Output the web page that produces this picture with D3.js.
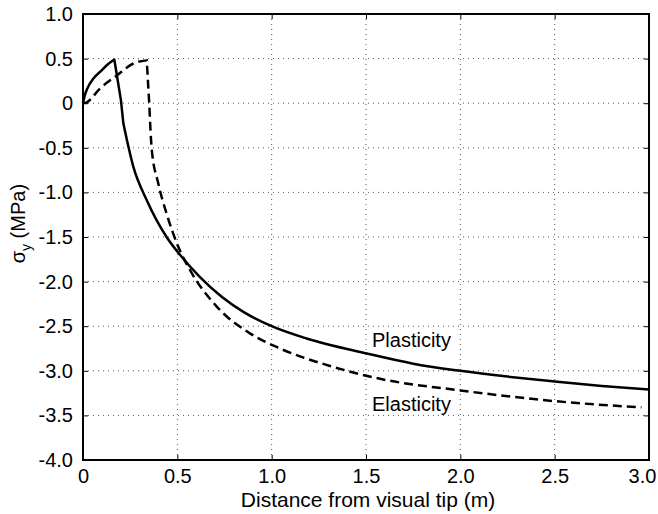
<!DOCTYPE html>
<html>
<head>
<meta charset="utf-8">
<script src="https://cdn.jsdelivr.net/npm/d3@7"></script>
<style>
  body { margin: 0; background: #fff; }
  svg text { font-family: "Liberation Sans", Arial, sans-serif; fill: #000; }
</style>
</head>
<body>
<div id="graph_container"></div>
<script>
// Plasticity curve (solid)
var plastX = [0, 0.01, 0.023, 0.055, 0.09, 0.126, 0.166, 0.201, 0.214, 0.267, 0.338, 0.443, 0.514, 0.62, 0.735, 0.85, 1.0, 1.185, 1.504, 1.75, 2.0, 2.25, 2.5, 2.75, 3.0];
var plastY = [0, 0.09, 0.165, 0.277, 0.35, 0.426, 0.49, 0.034, -0.228, -0.714, -1.088, -1.5, -1.70, -1.95, -2.17, -2.34, -2.50, -2.638, -2.806, -2.92, -3.0, -3.065, -3.12, -3.17, -3.21];
var plastBreaks = [6, 8]; // sharp corners: peak, knee

// Elasticity curve (dashed)
var elastX = [0, 0.02, 0.09, 0.179, 0.267, 0.338, 0.352, 0.364, 0.399, 0.443, 0.505, 0.567, 0.709, 0.885, 1.044, 1.3, 1.575, 2.0, 2.5, 2.96];
var elastY = [0, 0.01, 0.165, 0.31, 0.445, 0.48, -0.04, -0.51, -0.90, -1.237, -1.61, -1.87, -2.28, -2.58, -2.75, -2.94, -3.09, -3.22, -3.34, -3.41];
var elastBreaks = [5, 6];

var xTicks = [0, 0.5, 1.0, 1.5, 2.0, 2.5, 3.0];
var yTicks = [1.0, 0.5, 0, -0.5, -1.0, -1.5, -2.0, -2.5, -3.0, -3.5, -4.0];

var labels = [
    {text: "Plasticity", x: 1.741, y: -2.735},
    {text: "Elasticity", x: 1.741, y: -3.45}
];

createGraph();

function createGraph() {
    var frame_width  = 658,
        frame_height = 514,
        margin       = {top: 14, right: 9, bottom: 54, left: 83},
        width        = frame_width - margin.left - margin.right,
        height       = frame_height - margin.top - margin.bottom,
        fontSize     = "20px";

    var svg = d3.select("#graph_container").append("svg")
        .attr("width", frame_width)
        .attr("height", frame_height);

    var g = svg.append("g")
        .attr("transform", "translate(" + margin.left + "," + margin.top + ")");

    var x = d3.scaleLinear().domain([0, 3]).range([0, width]);
    var y = d3.scaleLinear().domain([-4, 1]).range([height, 0]);

    var fmt = function(d) { return d === 0 ? "0" : d.toFixed(1); };

    // dotted grid
    g.append("g").selectAll("line")
        .data(xTicks.slice(1, -1))
        .enter().append("line")
        .attr("x1", function(d) { return x(d); })
        .attr("x2", function(d) { return x(d); })
        .attr("y1", 0).attr("y2", height)
        .attr("stroke", "#555").attr("stroke-width", 1)
        .attr("stroke-dasharray", "1,4");
    g.append("g").selectAll("line")
        .data(yTicks.slice(1, -1))
        .enter().append("line")
        .attr("y1", function(d) { return y(d); })
        .attr("y2", function(d) { return y(d); })
        .attr("x1", 0).attr("x2", width)
        .attr("stroke", "#555").attr("stroke-width", 1)
        .attr("stroke-dasharray", "1,4");

    // axes, ticks pointing inward
    var xAxis = g.append("g")
        .attr("transform", "translate(0," + height + ")")
        .call(d3.axisBottom(x).tickValues(xTicks).tickFormat(fmt).tickSizeInner(-5).tickSizeOuter(0).tickPadding(9));
    g.append("g")
        .call(d3.axisLeft(y).tickValues(yTicks).tickFormat(fmt).tickSizeInner(-5).tickSizeOuter(0).tickPadding(10));
    g.append("g")
        .call(d3.axisTop(x).tickValues(xTicks).tickFormat("").tickSizeInner(-5).tickSizeOuter(0));
    g.append("g")
        .attr("transform", "translate(" + width + ",0)")
        .call(d3.axisRight(y).tickValues(yTicks).tickFormat("").tickSizeInner(-5).tickSizeOuter(0));

    g.selectAll(".domain").remove();
    g.selectAll(".tick line").attr("stroke", "#000").attr("stroke-width", 1);
    g.selectAll(".tick text").style("font-size", fontSize);

    // keep the last x label inside the frame
    xAxis.selectAll(".tick text")
        .filter(function(d) { return d === 3.0; })
        .attr("dx", -7);

    g.append("rect")
        .attr("width", width).attr("height", height)
        .attr("fill", "none").attr("stroke", "#000").attr("stroke-width", 2);

    var smooth = d3.line()
        .x(function(d) { return x(d[0]); })
        .y(function(d) { return y(d[1]); })
        .curve(d3.curveMonotoneX);
    var straight = d3.line()
        .x(function(d) { return x(d[0]); })
        .y(function(d) { return y(d[1]); });

    // smooth pieces joined by straight pieces at the sharp corners, one path
    function buildPath(xs, ys, breaks) {
        var pts = d3.zip(xs, ys);
        var a = pts.slice(0, breaks[0] + 1),
            b = pts.slice(breaks[0], breaks[1] + 1),
            c = pts.slice(breaks[1]);
        return smooth(a) + straight(b).replace(/^M/, "L") + smooth(c).replace(/^M/, "L");
    }

    g.append("path")
        .attr("fill", "none")
        .attr("stroke", "#000")
        .attr("stroke-width", 2.5)
        .attr("stroke-dasharray", "9,5")
        .attr("d", buildPath(elastX, elastY, elastBreaks));

    g.append("path")
        .attr("fill", "none")
        .attr("stroke", "#000")
        .attr("stroke-width", 2.5)
        .attr("stroke-linejoin", "round")
        .attr("d", buildPath(plastX, plastY, plastBreaks));

    g.selectAll(".curve-label")
        .data(labels)
        .enter().append("text")
        .attr("class", "curve-label")
        .attr("x", function(d) { return x(d.x); })
        .attr("y", function(d) { return y(d.y); })
        .attr("text-anchor", "middle")
        .style("font-size", fontSize)
        .text(function(d) { return d.text; });

    // axis labels
    g.append("text")
        .attr("text-anchor", "middle")
        .attr("x", width / 2 + 2)
        .attr("y", height + 47)
        .style("font-size", "21px")
        .text("Distance from visual tip (m)");

    var yl = g.append("text")
        .attr("text-anchor", "middle")
        .attr("transform", "rotate(-90)")
        .attr("x", -y(-1.35))
        .attr("y", -58)
        .style("font-size", fontSize);
    yl.append("tspan").text("σ");
    yl.append("tspan").attr("dy", 6).style("font-size", "14px").text("y");
    yl.append("tspan").attr("dy", -6).text(" (MPa)");
}
</script>
</body>
</html>
